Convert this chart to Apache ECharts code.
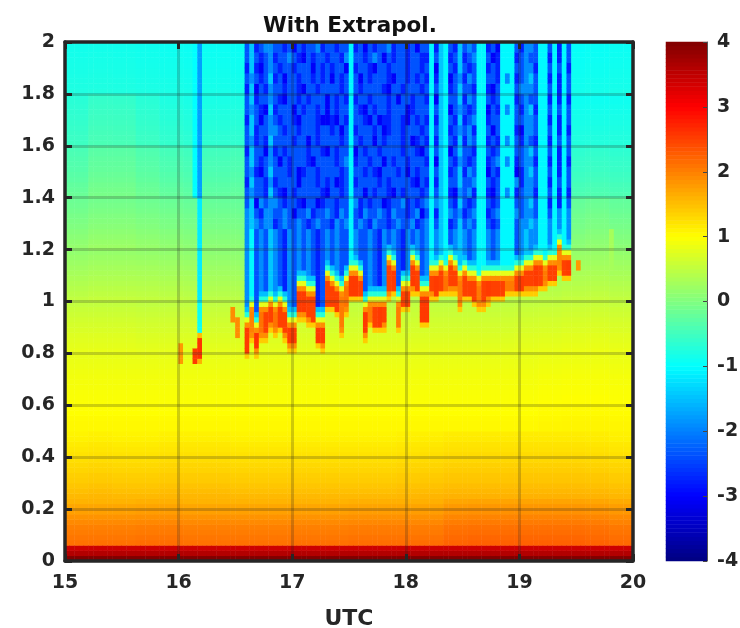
<!DOCTYPE html>
<html><head><meta charset="utf-8">
<style>html,body{margin:0;padding:0;background:#fff}#c{width:740px;height:628px;filter:blur(0.5px)}</style>
<script src="https://cdn.jsdelivr.net/npm/echarts@6/dist/echarts.min.js"></script>
</head><body><div id="c"></div>
<script>
// Columns: 2.5 min from 15 UTC; rows: 0.02 height bins from 0.
const COLS = 120, ROWS = 100;
// Clear-air value per height row (bottom to top).
const clearProfile = [4.0,3.6,3.4,2.12,2.08,2.03,2.0,1.92,1.85,1.75,1.7,1.6,1.55,1.5,1.45,1.4,1.38,1.33,1.3,1.25,1.22,1.18,1.15,1.1,1.08,
1.05,1.05,1.03,1.0,1.0,.98,.96,.95,.93,.92,.9,.88,.86,.84,.82,.8,.77,.74,.72,.68,.65,.62,.58,.55,.5,
.47,.42,.38,.34,.3,.26,.22,.18,.14,.1,.06,.02,-.02,-.06,-.1,-.13,-.16,-.2,-.23,-.26,-.3,-.33,-.36,-.4,-.43,
-.46,-.48,-.5,-.53,-.55,-.58,-.6,-.62,-.64,-.66,-.68,-.7,-.72,-.74,-.76,-.78,-.8,-.81,-.82,-.83,-.84,-.85,-.86,-.87,-.88];
// Height bands for the time-dependent adjustment, and adjustment per 12.5 min group.
const shiftBandTops = [.25,.5,.8,1,1.2,1.4,1.6,1.8,2.01];
const shiftTable = [
[0,0,0,.02,.02,0,0,0,0,0,0,0,.02,.02,.02,.02,.1,.12,.12,.12,.12,.12,.1,.06],
[0,.02,0,0,.02,.02,.02,0,0,0,0,0,0,0,.02,.03,.06,.06,.06,.06,.06,.06,.05,.02],
[0,0,0,0,0,0,0,0,0,0,0,0,0,0,0,0,0,0,0,0,.02,.03,.03,.02],
[.02,.02,.02,0,0,0,0,0,0,0,0,0,0,0,0,0,0,0,0,.02,.03,.05,.06,.04],
[.04,.07,.07,.06,.04,.02,0,0,0,0,0,0,0,0,0,0,0,0,0,.02,.04,.07,.08,.05],
[.1,.16,.16,.12,.08,.05,.05,.05,0,0,0,0,0,0,0,0,0,0,0,-.02,0,.04,.08,.03],
[.12,.24,.24,.16,.08,.04,.05,.08,0,0,0,0,0,0,0,0,0,0,0,-.08,-.1,-.1,-.08,-.1],
[.06,.16,.15,.06,-.02,-.06,-.06,-.04,0,0,0,0,0,0,0,0,0,0,0,-.12,-.15,-.16,-.15,-.14],
[.02,.03,.02,0,-.02,-.04,-.04,-.05,0,0,0,0,0,0,0,0,0,0,0,-.06,-.08,-.08,-.06,-.04]];
// Cloud region covers columns 38..106.
const CLOUD_START = 38;
const aloftCodes = {c:-1.05,m:-1.45,l:-1.9,b:-2.35,d:-2.75,n:-3.05};
// Top to bottom, 0.04 per row, from 2.0 down to 1.24.
const aloftRows = [
"b m dbl l bbdbnbdbbldbbdbb c dbnbdbbldbbdbnb bc dm c bd m b lb cc dbn c c c bd ll b cc b c d c b",
"b m bdb l dbblbdnbdbbdbbdl c bbdblbnbdbbdbbd dc bm c db m d bl cc bnd c c c db lb b cc d c d c b",
"d m dnb l bdbbdbbbnbdbdbbn c dbbdnbbdbbbdbbd bc nm c bd m b db cc dbd c c c bb ll d cc b c b c d",
"b l bdb m dbnbbdbbdbdbnbdb c bnbdbbbdnbbdbdb dc dm c nb l d lb cc bbd c l c db lm b cc d c d c b",
"d m nbd l bbdbbdnbbdbbbbdb c bdbbbbdnbbdbbbd bc bm c db m b bd cc dnb c c c bl ll b cc b c d c b",
"b m dbb l bdnbbdbdbbbnbdbd c dbbdbbbdbnbbdbb dc nm c bb m d lb cc bdb c c c db lb b cc d c d c d",
"b l bdn m dbbbnbdbbdbnbdbb c bdnbdbbdbbbndbb bc bm c nb l b db cc nbd c l c bd lm d cc b c b c b",
"d m bnb l bdbbdnbbbdnndnbd c bbdnbnddbbdnbdb dc dm c bd m d bl cc dbb c c c bb ll b cc d c d c b",
"b m dbb l lbdbbdbbbdbbdbnb c dbbbdbndbbdbbbd bc bm c db l b ld cc bnb c c c dn ll b cc b c d c d",
"b l dbd m bbbbdbbnbdbbbbdb c bdbbnbdbbbdbndb dc dm c bd m d lb cc dbd c l c bd lb d cc d c b c b",
"d m bbn l dbdbbbbdbbdnbdbb c nbdbbdbbbbdbbdn bc bm c nb m b bd cc bdb c c c bb lm b cc b c d c b",
"b m bdb l bnbdbbbdnbbbbdbl c dbbdbbnbdbbdbbb dc nm c bd l b db cc dbl c l c db ll d cc d c d c d",
"b l dnb m bbbdbndbbdbbbbdb c bbdbdnbbbdbnbdb bc bm c db m d lb cc nbd c c c nd lm b cc b c d c b",
"d m bbd l dbbbbnbbbdbdbndb c dbbbbdbdbbbbdnb dc dm c bb m b bl cc bdb c c c ld ll b cc d c b c b",
"b l bbd m bdnbdbbbbbdnbbdb c bbnbdbbdnbdbbbd bc bm c dn l b ld cc dnb c l c db ll d cc b c d c d",
"b m nlb l lbdbbdnbbndbbdbb c ldbdbbndbbldbdb lc lm c bd m b db cc bdb c c c bb lm b cc d c d c b",
"l m bdl l bblbnbbldbblbdlb c bdlbblbdlbbdbln bc dm c lb l d bl cc dbl c c c lb ll b cc b c l c l",
"l m lbl l dblbblbdblbbdlbl c blbdlbbdblbbldb lc bm c db m b lb cc bdb c c c bl lm l cc l c l c l",
"l c blb m lbdlblblbdblblbb c lbblbdlblbdlblb lc lm c bl m l bl cc lbl c c c bl ml l cc l c l c l"
].map(s => s.replace(/ /g,''));
// Upper and lower height of the strong band per cloud column, with its strength.
const bandTop = [.91,.96,.875,.96,.96,.99,.97,.99,.96,.90,.90,1.05,1.05,1.02,1.02,.91,.91,1.08,1.07,1.05,1.03,1.06,1.11,1.11,1.09,.96,.98,.99,.99,.99,1.14,1.13,.99,1.05,1.05,1.145,1.12,1.02,1.02,1.11,1.11,1.12,1.10,1.14,1.13,1.08,1.10,1.09,1.09,1.06,1.08,1.08,1.08,1.09,1.08,1.08,1.09,1.10,1.11,1.12,1.13,1.14,1.14,1.12,1.14,1.14,1.20,1.17,1.17];
const bandBottom = [.81,.88,.82,.875,.88,.92,.90,.91,.88,.845,.845,.965,.96,.94,.93,.85,.84,.99,.99,.97,.90,.98,1.03,1.03,1.03,.875,.93,.91,.91,.92,1.04,1.05,.91,.99,.99,1.055,1.05,.93,.93,1.04,1.03,1.05,1.05,1.055,1.06,1.0,1.03,1.03,1.01,1.0,1.0,1.02,1.03,1.03,1.03,1.05,1.05,1.05,1.05,1.06,1.06,1.06,1.07,1.08,1.09,1.09,1.145,1.11,1.11];
const bandStrength = [2.55,2.0,2.6,2.1,2.5,2.5,2.1,2.5,2.5,2.55,2.55,2.55,2.55,2.5,2.5,2.55,2.55,2.5,2.5,2.5,2.05,2.1,2.55,2.55,2.5,2.55,2.05,2.5,2.55,2.5,2.5,2.55,2.05,2.5,2.5,2.55,2.5,2.55,2.55,2.5,2.55,2.5,2.1,2.5,2.5,2.05,2.5,2.5,2.5,2.05,2.5,2.55,2.5,2.5,2.5,2.05,2.05,2.5,2.55,2.5,2.5,2.55,2.5,2.05,2.5,2.5,1.95,2.5,2.55];
const aboveBand = [1.9,0.8,-0.7,-1.5];
const belowBand = [1.9,1.4];
// Isolated columns: column, upper height, lower height, value.
const streaks = [[27,2.01,1.4,-1.0],[28,2.01,1.4,-1.75],[28,1.4,1.0,-1.15],[28,1.0,.86,-.9],[27,.82,.755,2.55],[28,.86,.79,2.6],[28,.88,.86,1.5],[28,.79,.76,1.6],[24,.84,.76,1.8],[35,.975,.92,1.9],[36,.94,.87,1.9],[108,1.17,1.13,1.8],[115,1.28,1.1,.3]];

const timeCats = Array.from({length:COLS},(_,i)=>i);
const heightCats = Array.from({length:ROWS},(_,i)=>i);
const xTickRange = [15,20], yTickRange = [0,2], barRange = [-4,4];
const barSteps = Array.from({length:128},(_,i)=>i);
const jet = ['#000080','#0000ff','#0080ff','#00ffff','#80ff80','#ffff00','#ff8000','#ff0000','#800000'];

const cells = [];
for (let c=0;c<COLS;c++) for (let r=0;r<ROWS;r++) {
  const h = r*0.02+0.01, g = Math.floor(c/5);
  const b = shiftBandTops.findIndex(t=>h<t);
  let v = clearProfile[r] + (r>=3 ? shiftTable[b][g] : 0);
  const k = c-CLOUD_START;
  if (k>=0 && k<bandTop.length) {
    if (h>=bandTop[k]) {
      const n = Math.floor((h-bandTop[k])/0.02+1e-6);
      const rowA = Math.min(aloftRows.length-1, Math.floor((2-h)/0.04));
      const ch = aloftRows[rowA][k] || 'b';
      const av = aloftCodes[ch];
      v = n<aboveBand.length ? Math.max(aboveBand[n],av) : av;
    } else if (h>=bandBottom[k]) v = bandStrength[k];
    else {
      const n = Math.floor((bandBottom[k]-h)/0.02+1e-6);
      if (n<belowBand.length) v = Math.max(v,belowBand[n]);
    }
  }
  for (const s of streaks) if (s[0]===c && h<s[1] && h>=s[2]) v = s[3];
  cells.push([c,r,+v.toFixed(2)]);
}
const barCells = barSteps.map(i=>[0,i,barRange[0]+(barRange[1]-barRange[0])*(i+.5)/barSteps.length]);

const ink = '#262626';
const font = {fontFamily:'DejaVu Sans',fontWeight:'bold',fontSize:19,color:ink};
const grid0 = {left:65,top:42,width:568,height:519,outerBoundsMode:'none'};
const grid1 = {left:666,top:42,width:41,height:519,outerBoundsMode:'none'};
const tick = {show:true,inside:true,length:7,lineStyle:{color:ink,width:3}};
const line = {show:true,onZero:false,lineStyle:{color:ink,width:3.5}};
const split = {show:true,showMinLine:false,showMaxLine:false,lineStyle:{color:'rgba(30,30,30,0.22)',width:3}};
const hiddenCat = (data,gridIndex)=>({type:'category',data,gridIndex,show:false,boundaryGap:true});

const chart = echarts.init(document.getElementById('c'),null,{renderer:'canvas'});
chart.setOption({
  animation:false,
  backgroundColor:'#fff',
  title:{text:'With Extrapol.',left:345,top:10,textAlign:'center',textStyle:{fontFamily:'DejaVu Sans',fontWeight:'bold',fontSize:21.5,color:'#111'}},
  grid:[grid0,grid1],
  visualMap:{show:false,type:'continuous',min:barRange[0],max:barRange[1],dimension:2,seriesIndex:[0,1],inRange:{color:jet}},
  xAxis:[
    hiddenCat(timeCats,0),
    {type:'value',gridIndex:0,position:'bottom',min:xTickRange[0],max:xTickRange[1],interval:1,z:10,
     axisLine:line,axisTick:tick,splitLine:split,axisLabel:{...font,margin:13,showMinLabel:true,showMaxLabel:true,hideOverlap:false},
     name:'UTC',nameLocation:'middle',nameGap:47,nameTextStyle:{fontFamily:'DejaVu Sans',fontWeight:'bold',fontSize:22,color:ink}},
    {type:'value',gridIndex:0,position:'top',min:xTickRange[0],max:xTickRange[1],interval:1,z:10,
     axisLine:line,axisTick:tick,splitLine:{show:false},axisLabel:{show:false}},
    hiddenCat(['bar'],1)
  ],
  yAxis:[
    hiddenCat(heightCats,0),
    {type:'value',gridIndex:0,position:'left',min:yTickRange[0],max:yTickRange[1],interval:.2,z:10,
     axisLine:line,axisTick:tick,splitLine:split,axisLabel:{...font,margin:10,showMinLabel:true,showMaxLabel:true,hideOverlap:false}},
    {type:'value',gridIndex:0,position:'right',min:yTickRange[0],max:yTickRange[1],interval:.2,z:10,
     axisLine:line,axisTick:tick,splitLine:{show:false},axisLabel:{show:false}},
    hiddenCat(barSteps,1),
    {type:'value',gridIndex:1,position:'right',min:barRange[0],max:barRange[1],interval:1,z:10,
     axisLine:{show:true,onZero:false,lineStyle:{color:'#555',width:1}},
     axisTick:{show:true,inside:true,length:4,lineStyle:{color:'#444',width:1}},splitLine:{show:false},
     axisLabel:{...font,margin:10,showMinLabel:true,showMaxLabel:true,hideOverlap:false}}
  ],
  series:[
    {type:'heatmap',xAxisIndex:0,yAxisIndex:0,data:cells,progressive:0,itemStyle:{borderWidth:0},emphasis:{disabled:true}},
    {type:'heatmap',xAxisIndex:3,yAxisIndex:3,data:barCells,progressive:0,itemStyle:{borderWidth:0},emphasis:{disabled:true}}
  ]
});
</script></body></html>
